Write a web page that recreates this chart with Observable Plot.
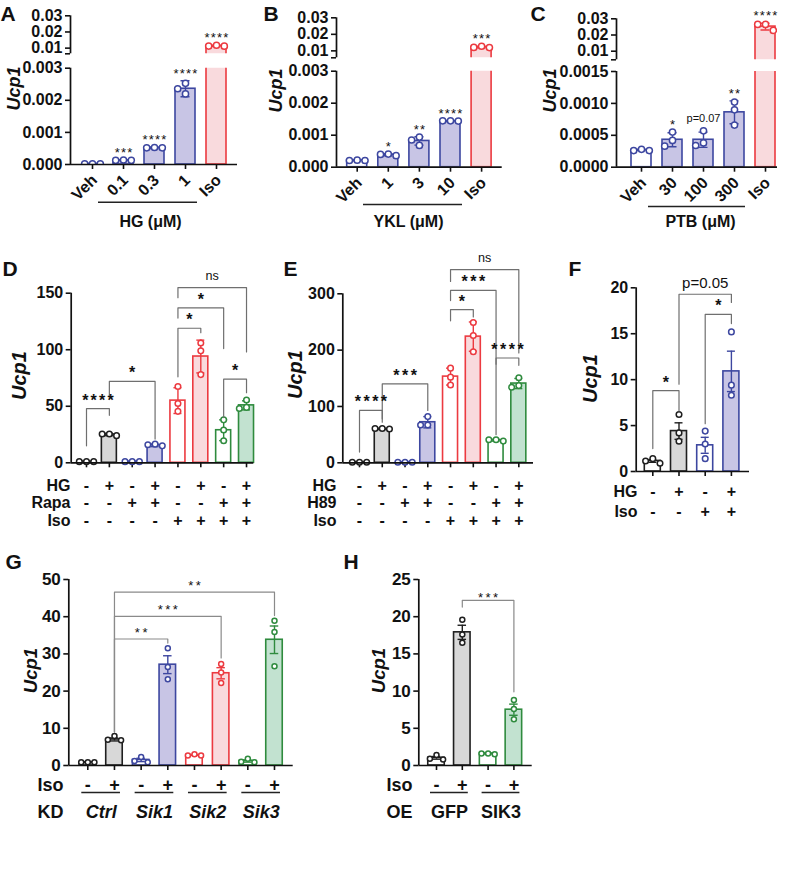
<!DOCTYPE html>
<html>
<head>
<meta charset="utf-8">
<script src="https://cdn.jsdelivr.net/npm/d3@7"></script>
<script src="https://cdn.jsdelivr.net/npm/@observablehq/plot@0.6"></script>
<style>
html,body{margin:0;padding:0;background:#fff;}
#fig{position:relative;width:787px;height:895px;overflow:hidden;background:#fff;}
#fig svg{position:absolute;overflow:visible;}
#fig svg g[aria-label$="tick"] path, #fig svg g.tick line{stroke-width:1.6px;}
</style>
</head>
<body>
<div id="fig"></div>
<script>
// ================= DATA =================
// A: HG dose (µM)
const aGroups = ["Veh", "0.1", "0.3", "1", "Iso"];
const aMean = [0.00002, 0.00013, 0.00052, 0.00236, 0.0114];
const aErr = [0.000005, 0.000006, 0.00002, 0.00025, 0.0003];
const aReps = [[0.00002, 0.00002, 0.00002], [0.00013, 0.00013, 0.00014], [0.00052, 0.00053, 0.00052], [0.00253, 0.00236, 0.0022], [0.0112, 0.0118, 0.0113]];
const aSig = ["", "***", "****", "****", "****"];
// B: YKL dose (µM)
const bGroups = ["Veh", "1", "3", "10", "Iso"];
const bMean = [0.00021, 0.00039, 0.00082, 0.00144, 0.0123];
const bErr = [0.00001, 0.00003, 0.00013, 0.00001, 0.0004];
const bReps = [[0.00021, 0.00022, 0.00021], [0.00036, 0.00041, 0.0004], [0.00094, 0.00085, 0.00068], [0.00145, 0.00144, 0.00145], [0.012, 0.0128, 0.0121]];
const bSig = ["", "*", "**", "****", "***"];
// C: PTB dose (µM)
const cGroups = ["Veh", "30", "100", "300", "Iso"];
const cMean = [0.00027, 0.00043, 0.00043, 0.00086, 0.0252];
const cErr = [0.00001, 0.00011, 0.00012, 0.00018, 0.0021];
const cReps = [[0.00026, 0.00028, 0.00026], [0.00055, 0.00042, 0.00033], [0.00057, 0.00038, 0.00034], [0.00102, 0.0009, 0.00066], [0.0265, 0.0265, 0.0228]];
const cSig = ["", "*", "p=0.07", "**", "****"];
// tick labels for A–C
const abcTicksHigh = [0.01, 0.02, 0.03];
const abTicksLow = [0, 0.001, 0.002, 0.003];
const cTicksLow = [0, 0.0005, 0.001, 0.0015];
// D: HG / Rapa / Iso
const dHG = ["-", "+", "-", "+", "-", "+", "-", "+"];
const dRapa = ["-", "-", "+", "+", "-", "-", "+", "+"];
const dIso = ["-", "-", "-", "-", "+", "+", "+", "+"];
const dMean = [1, 25, 1, 15.5, 55, 94, 28.8, 50.8];
const dErr = [0.3, 1, 0.3, 1.2, 11.4, 14.5, 9.2, 4];
const dReps = [[1, 1, 1], [24, 25.5, 25.5], [1, 1, 1], [15, 16.5, 16], [67.5, 52.5, 45.5], [106, 99, 78], [38, 29, 19.5], [55.5, 48, 49]];
const dBrackets = [[1, 2, 48, 15, 42, "****"], [2, 4, 72, 59, 21, "*"], [5, 6, 119, 76, 115, "*"], [5, 7, 137, 128, 101, "*"], [5, 8, 155, 146, 98, "ns"], [7, 8, 74, 40, 62, "*"]];
const dTicks = [0, 50, 100, 150];
// E: HG / H89 / Iso
const eHG = ["-", "+", "-", "+", "-", "+", "-", "+"];
const eH89 = ["-", "-", "+", "+", "-", "-", "+", "+"];
const eIso = ["-", "-", "-", "-", "+", "+", "+", "+"];
const eMean = [1, 60, 1, 72, 153, 224, 40, 140.7];
const eErr = [0.5, 1, 0.5, 10, 15, 26, 1.5, 9];
const eReps = [[1, 1, 1], [60, 61, 61], [1, 1, 1], [82, 67, 67], [168, 152, 138], [249, 226, 197], [41, 38.5, 41], [151, 134, 137]];
const eBrackets = [[1, 2, 93, 19, 78, "****"], [2, 4, 140, 72, 93, "***"], [5, 6, 272, 252, 259, "*"], [5, 7, 306, 288, 50, "***"], [5, 8, 343, 322, 195, "ns"], [7, 8, 186, 175, 173, "****"]];
const eTicks = [0, 100, 200, 300];
// F: HG / Iso
const fHG = ["-", "+", "-", "+"];
const fIso = ["-", "-", "+", "+"];
const fMean = [1.15, 4.4, 2.85, 10.9];
const fErr = [0.15, 0.9, 0.87, 2.2];
const fReps = [[1.4, 0.9, 1.15], [6.2, 4.2, 3.3], [4.4, 3.0, 1.4], [15.2, 9.4, 8.3]];
const fBrackets = [[1, 2, 8.8, 2.5, 6.6, "*"], [2, 4, 19.3, 9.5, 18.4, "p=0.05"], [3, 4, 17.1, 5.2, 16.1, "*"]];
const fTicks = [0, 5, 10, 15, 20];
// G: knockdown
const gIso = ["-", "+", "-", "+", "-", "+", "-", "+"];
const gKD = ["Ctrl", "Sik1", "Sik2", "Sik3"];
const gMean = [0.85, 7.0, 1.5, 27.1, 2.8, 24.8, 1.2, 33.8];
const gErr = [0.05, 0.4, 0.45, 2.4, 0.1, 1.5, 0.3, 3.7];
const gReps = [[0.85, 0.85, 0.85], [7.9, 6.8, 6.9], [2.3, 1.2, 0.9], [31.5, 26.5, 23.2], [2.7, 3.0, 2.7], [27.3, 25.0, 22.2], [1.8, 1.0, 0.9], [38.9, 35.9, 26.7]];
const gBrackets = [[2, 4, 34.0, 9, 32.9, "**"], [2, 6, 40.1, 9, 28.9, "***"], [2, 8, 46.6, 9, 40.3, "**"]];
const gTicks = [0, 10, 20, 30, 40, 50];
// H: overexpression
const hIso = ["-", "+", "-", "+"];
const hOE = ["GFP", "SIK3"];
const hMean = [1.03, 17.9, 1.6, 7.5];
const hErr = [0.18, 0.95, 0.05, 0.75];
const hReps = [[1.4, 0.8, 0.9], [19.6, 17.6, 16.5], [1.5, 1.6, 1.6], [8.8, 7.6, 6.2]];
const hBrackets = [[2, 4, 22.2, 21.3, 9.9, "***"]];
const hTicks = [0, 5, 10, 15, 20, 25];

// ================= STYLE =================
const PAL = {
  k: {stroke: "#1f1f1f", fill: "#d8d8d8"},
  b: {stroke: "#3d47a0", fill: "#c8c5e5"},
  r: {stroke: "#ec3a40", fill: "#f9dadd"},
  g: {stroke: "#2f8b3e", fill: "#c2e2d0"}
};
const STY5 = ["b0", "b1", "b1", "b1", "r1"];
const STY8 = ["k0", "k1", "b0", "b1", "r0", "r1", "g0", "g1"];
const STYF = ["k0", "k1", "b0", "b1"];
const STYH = ["k0", "k1", "g0", "g1"];
const FONT = '"Liberation Sans", Arial, Helvetica, sans-serif';
const fig = document.getElementById("fig");
const isStar = s => /^\*+$/.test(s);

function spread(vals, ppu, d) {
  const order = vals.map((_, i) => i).sort((a, b) => vals[b] - vals[a]);
  const placed = [], off = [];
  for (const i of order) {
    const y = vals[i] * ppu;
    for (const k of [0, -1, 1, -2, 2]) {
      const x = k * d;
      if (k === 2 || placed.every(p => Math.hypot(p.x - x, p.y - y) >= d * 0.98)) {
        off[i] = x; placed.push({x, y}); break;
      }
    }
  }
  return off;
}

function panel(c) {
  const [L, T, W, H] = c.box;
  const x0 = 1 - (c.firstCenter - c.axisX) / c.spacing;
  const x1 = 1 + (c.axisEnd - c.firstCenter) / c.spacing;
  const [ya, yb] = c.yDomain;
  const ppu = (c.yBottom - c.yTop) / (yb - ya);
  const u = px => px / c.spacing;
  const X = px => x0 + (px - c.axisX) / c.spacing;
  const Y = py => ya + (c.yBottom - py) / ppu;
  const clip = !!c.clip;
  const groups = c.means.map((m, i) => {
    const p = PAL[c.styles[i][0]];
    return {x: i + 1, mean: m, lo: m - c.err[i], hi: m + c.err[i], stroke: p.stroke,
      fill: c.styles[i][1] === "1" ? p.fill : "#ffffff",
      top: Math.max(m + c.err[i], ...c.reps[i]), label: c.sig ? c.sig[i] : ""};
  });
  const dots = [];
  c.reps.forEach((vals, i) => {
    const off = spread(vals, ppu, 2 * c.dotR + 1.6);
    vals.forEach((v, j) => dots.push({x: i + 1 + u(off[j]), y: v, stroke: groups[i].stroke}));
  });
  const cap = c.capW / 2;
  const marks = [
    Plot.rectY(groups, {x1: d => d.x - u(c.barW / 2), x2: d => d.x + u(c.barW / 2), y1: () => 0, y2: "mean", fill: "fill", stroke: "stroke", strokeWidth: 1.6, clip}),
    Plot.ruleX(groups, {x: "x", y1: "lo", y2: "hi", stroke: "stroke", strokeWidth: 1.4, clip}),
    Plot.ruleY(groups, {y: "hi", x1: d => d.x - u(cap), x2: d => d.x + u(cap), stroke: "stroke", strokeWidth: 1.4, clip}),
    Plot.ruleY(groups, {y: "lo", x1: d => d.x - u(cap), x2: d => d.x + u(cap), stroke: "stroke", strokeWidth: 1.4, clip}),
    Plot.dot(dots, {x: "x", y: "y", r: c.dotR, stroke: "stroke", fill: "#ffffff", strokeWidth: 1.5, clip}),
    Plot.ruleX([x0], {y1: ya, y2: yb, stroke: "#111", strokeWidth: 1.7})
  ];
  if (c.xAxis) marks.push(Plot.ruleY([ya], {stroke: "#111", strokeWidth: 1.7}));
  if (c.sig) {
    const lab = groups.filter(g => g.label && g.top >= ya && g.top <= yb);
    const S = c.sigStar, Tx = c.sigText;
    marks.push(Plot.text(lab.filter(g => isStar(g.label)), {x: "x", y: "top", text: "label", lineAnchor: "bottom", dx: S.ls / 2, dy: S.dy, fontSize: S.size, fontWeight: S.weight}));
    marks.push(Plot.text(lab.filter(g => !isStar(g.label)), {x: "x", y: "top", text: "label", lineAnchor: "bottom", dy: Tx.dy, fontSize: Tx.size, fontWeight: "normal"}));
  }
  if (c.brackets) {
    const br = c.brackets.map(([a, b, y, la, lb, label], id) => ({a, b, y, la, lb, label, id}));
    const pts = br.flatMap(d => [{x: d.a, y: d.la, id: d.id}, {x: d.a, y: d.y, id: d.id}, {x: d.b, y: d.y, id: d.id}, {x: d.b, y: d.lb, id: d.id}]);
    marks.push(Plot.line(pts, {x: "x", y: "y", z: "id", stroke: c.brColor, strokeWidth: 1.2}));
    const B = c.brStar, BT = c.brText;
    marks.push(Plot.text(br.filter(d => isStar(d.label)), {x: d => (d.a + d.b) / 2, y: "y", text: "label", lineAnchor: "bottom", dx: B.ls / 2, dy: B.dy, fontSize: B.size, fontWeight: B.weight}));
    marks.push(Plot.text(br.filter(d => !isStar(d.label)), {x: d => (d.a + d.b) / 2, y: "y", text: "label", lineAnchor: "bottom", dy: BT.dy, fontSize: BT.size, fontWeight: "normal"}));
  }
  if (c.rotLabels) {
    marks.push(Plot.text(c.rotLabels, {x: (d, i) => i + 1, frameAnchor: "bottom", text: d => d, rotate: -45, textAnchor: "end", lineAnchor: "middle", dx: c.rotDx, dy: c.rotDy, fontSize: c.font, fontWeight: "bold"}));
  }
  (c.rows || []).forEach(r => {
    marks.push(Plot.text(r.values, {x: (d, i) => r.xs ? r.xs[i] : i + 1, frameAnchor: "bottom", dy: r.dy, text: d => d, lineAnchor: "middle", fontSize: c.rowSize, fontWeight: "bold", fontStyle: r.italic ? "italic" : "normal"}));
    marks.push(Plot.text([r.label], {x: X(c.rowLabelRight), frameAnchor: "bottom", dy: r.dy, text: d => d, textAnchor: "end", lineAnchor: "middle", fontSize: c.rowSize, fontWeight: "bold"}));
  });
  if (c.pairLine) {
    const pairs = d3.range(c.means.length / 2);
    marks.push(Plot.ruleY(pairs, {y: () => ya, x1: k => 2 * k + 1 - u(c.pairLine.ext), x2: k => 2 * k + 2 + u(c.pairLine.ext), dy: c.pairLine.dy, stroke: "#222", strokeWidth: 1.3}));
  }
  (c.lines || []).forEach(l => marks.push(Plot.ruleY([Y(l.py)], {x1: X(l.px1), x2: X(l.px2), stroke: "#222", strokeWidth: 1.6})));
  (c.notes || []).forEach(n => marks.push(Plot.text([n.text], {x: X(n.px), y: Y(n.py), text: d => d, fontSize: n.size, fontWeight: "bold", fontStyle: n.italic ? "italic" : "normal", rotate: n.rotate || 0, textAnchor: n.anchor || "middle", lineAnchor: n.line || "middle"})));

  const svg = Plot.plot({
    width: W, height: H,
    marginLeft: c.axisX - L, marginRight: L + W - c.axisEnd,
    marginTop: c.yTop - T, marginBottom: T + H - c.yBottom,
    x: {domain: [x0, x1], axis: c.xAxis ? "bottom" : null, ticks: groups.map(g => g.x), tickSize: 5, tickFormat: () => "", label: null},
    y: {domain: [ya, yb], ticks: c.yTicks, tickFormat: c.yFormat, tickSize: 5, tickPadding: 3, label: null},
    color: {type: "identity"},
    style: {background: "transparent", overflow: "visible", fontFamily: FONT, fontSize: c.font + "px", fontWeight: "bold", color: "#111"},
    marks
  });
  const ls = c.brackets ? c.brStar.ls : (c.sigStar ? c.sigStar.ls : 0);
  svg.querySelectorAll("text").forEach(t => { if (isStar(t.textContent)) t.style.letterSpacing = ls + "px"; });
  svg.style.left = L + "px";
  svg.style.top = T + "px";
  fig.appendChild(svg);
}

// ================= LAYOUT =================
const topStar = {size: 13, dy: -3, weight: "normal", ls: 1.2};
const topText = {size: 11, dy: -9};
const fmtHigh = v => abcTicksHigh.includes(v) ? d3.format(".2f")(v) : "";
const abcCommon = {dotR: 3.1, barW: 20, capW: 9, font: 16, clip: true, styles: STY5, sigStar: topStar, sigText: topText};

// A
const aGeo = {axisX: 70, axisEnd: 237, firstCenter: 92, spacing: 31, means: aMean, err: aErr, reps: aReps, sig: aSig};
panel({...abcCommon, ...aGeo, box: [0, 0, 262, 64], yTop: 15.3, yBottom: 53.3, yDomain: [0.0065, 0.03], yTicks: [0.0065, ...abcTicksHigh], yFormat: fmtHigh, xAxis: false,
  notes: [{text: "A", px: 0, py: 20, size: 21, anchor: "start", line: "bottom"}]});
panel({...abcCommon, ...aGeo, box: [0, 64, 262, 176], yTop: 67.7, yBottom: 164, yDomain: [0, 0.003], yTicks: abTicksLow, yFormat: d3.format(".3f"), xAxis: true,
  rotLabels: aGroups, rotDx: 2, rotDy: 13, lines: [{px1: 98, px2: 197, py: 201.7}],
  notes: [{text: "Ucp1", px: 13.5, py: 88, size: 18, rotate: -90, italic: true}, {text: "HG (μM)", px: 150, py: 226, size: 16, line: "bottom"}]});
// B
const bGeo = {axisX: 336, axisEnd: 501.7, firstCenter: 356.7, spacing: 31.1, means: bMean, err: bErr, reps: bReps, sig: bSig};
panel({...abcCommon, ...bGeo, box: [262, 0, 262, 64], yTop: 17.3, yBottom: 57.3, yDomain: [0.0058, 0.03], yTicks: [0.0058, ...abcTicksHigh], yFormat: fmtHigh, xAxis: false,
  notes: [{text: "B", px: 263, py: 20, size: 21, anchor: "start", line: "bottom"}]});
panel({...abcCommon, ...bGeo, box: [262, 64, 262, 176], yTop: 70.7, yBottom: 166.7, yDomain: [0, 0.003], yTicks: abTicksLow, yFormat: d3.format(".3f"), xAxis: true,
  rotLabels: bGroups, rotDx: 2, rotDy: 13, lines: [{px1: 363, px2: 462, py: 204}],
  notes: [{text: "Ucp1", px: 276, py: 90, size: 18, rotate: -90, italic: true}, {text: "YKL (μM)", px: 408, py: 226, size: 16, line: "bottom"}]});
// C
const cGeo = {axisX: 616, axisEnd: 777, firstCenter: 641, spacing: 31, means: cMean, err: cErr, reps: cReps, sig: cSig};
panel({...abcCommon, ...cGeo, box: [524, 0, 263, 64], yTop: 18.3, yBottom: 59.3, yDomain: [0.0047, 0.03], yTicks: [0.0047, ...abcTicksHigh], yFormat: fmtHigh, xAxis: false,
  notes: [{text: "C", px: 530, py: 20, size: 21, anchor: "start", line: "bottom"}]});
panel({...abcCommon, ...cGeo, box: [524, 64, 263, 176], yTop: 71, yBottom: 166.7, yDomain: [0, 0.0015], yTicks: cTicksLow, yFormat: d3.format(".4f"), xAxis: true,
  rotLabels: cGroups, rotDx: 2, rotDy: 13, lines: [{px1: 648, px2: 745, py: 206}],
  notes: [{text: "Ucp1", px: 550, py: 90, size: 18, rotate: -90, italic: true}, {text: "PTB (μM)", px: 700, py: 226, size: 16, line: "bottom"}]});

// D
const midCommon = {dotR: 2.8, barW: 15, capW: 8, font: 16, rowSize: 16, xAxis: true, yFormat: d3.format("d"),
  brStar: {size: 16, dy: -3, weight: "bold", ls: 2.2}, brText: {size: 12.6, dy: -8}, brColor: "#6f6f6f"};
panel({...midCommon, box: [0, 240, 262, 300], axisX: 70.7, axisEnd: 253.3, firstCenter: 86, spacing: 22.86, yTop: 292.7, yBottom: 462.3,
  yDomain: [0, 150], yTicks: dTicks, means: dMean, err: dErr, reps: dReps, styles: STY8, brackets: dBrackets,
  rows: [{label: "HG", values: dHG, dy: 22.7}, {label: "Rapa", values: dRapa, dy: 39.7}, {label: "Iso", values: dIso, dy: 57.7}], rowLabelRight: 70,
  notes: [{text: "D", px: 2, py: 275, size: 21, anchor: "start", line: "bottom"}, {text: "Ucp1", px: 19, py: 375, size: 20, rotate: -90, italic: true}]});
// E
panel({...midCommon, box: [262, 240, 280, 300], axisX: 342.3, axisEnd: 533, firstCenter: 359, spacing: 22.76, yTop: 293.3, yBottom: 462.3,
  yDomain: [0, 300], yTicks: eTicks, means: eMean, err: eErr, reps: eReps, styles: STY8, brackets: eBrackets,
  brStar: {size: 16, dy: -3, weight: "bold", ls: 2.5},
  rows: [{label: "HG", values: eHG, dy: 22.7}, {label: "H89", values: eH89, dy: 39.7}, {label: "Iso", values: eIso, dy: 57.7}], rowLabelRight: 336,
  notes: [{text: "E", px: 283, py: 275, size: 21, anchor: "start", line: "bottom"}, {text: "Ucp1", px: 295, py: 374, size: 20, rotate: -90, italic: true}]});
// F
panel({...midCommon, box: [542, 240, 245, 300], axisX: 635.7, axisEnd: 749, firstCenter: 652.3, spacing: 26.2, yTop: 287.3, yBottom: 471,
  yDomain: [0, 20], yTicks: fTicks, means: fMean, err: fErr, reps: fReps, styles: STYF, brackets: fBrackets, barW: 16,
  brText: {size: 15, dy: -6},
  rows: [{label: "HG", values: fHG, dy: 20.7}, {label: "Iso", values: fIso, dy: 40.7}], rowLabelRight: 637,
  notes: [{text: "F", px: 568, py: 275, size: 21, anchor: "start", line: "bottom"}, {text: "Ucp1", px: 590, py: 378, size: 20, rotate: -90, italic: true}]});

// G
const lowCommon = {dotR: 2.5, barW: 16.5, capW: 8.5, font: 17, rowSize: 18, xAxis: true, yFormat: d3.format("d"),
  brStar: {size: 13, dy: -2, weight: "normal", ls: 2.5}, brText: {size: 12, dy: -6}, brColor: "#8a8a8a", pairLine: {dy: 27, ext: 6}};
panel({...lowCommon, box: [0, 540, 340, 300], axisX: 68.3, axisEnd: 292.7, firstCenter: 87.3, spacing: 26.67, yTop: 579, yBottom: 765,
  yDomain: [0, 50], yTicks: gTicks, means: gMean, err: gErr, reps: gReps, styles: STY8, brackets: gBrackets,
  rows: [{label: "Iso", values: gIso, dy: 20}, {label: "KD", values: gKD, xs: [1.5, 3.5, 5.5, 7.5], dy: 47, italic: true}], rowLabelRight: 63,
  notes: [{text: "G", px: 5, py: 568, size: 21, anchor: "start", line: "bottom"}, {text: "Ucp1", px: 31, py: 670, size: 18.5, rotate: -90, italic: true}]});
// H
panel({...lowCommon, box: [340, 540, 250, 300], axisX: 418.3, axisEnd: 531.7, firstCenter: 436, spacing: 25.8, yTop: 579, yBottom: 765,
  yDomain: [0, 25], yTicks: hTicks, means: hMean, err: hErr, reps: hReps, styles: STYH, brackets: hBrackets,
  brStar: {size: 13, dy: 2, weight: "normal", ls: 2.5},
  rows: [{label: "Iso", values: hIso, dy: 20}, {label: "OE", values: hOE, xs: [1.5, 3.5], dy: 47}], rowLabelRight: 412,
  notes: [{text: "H", px: 343, py: 568, size: 21, anchor: "start", line: "bottom"}, {text: "Ucp1", px: 379, py: 670, size: 18.5, rotate: -90, italic: true}]});
</script>
</body>
</html>
